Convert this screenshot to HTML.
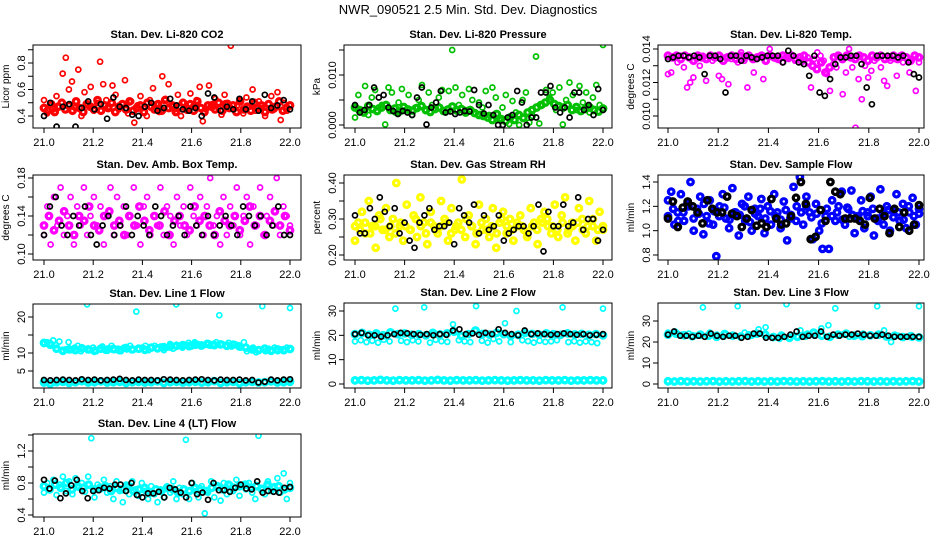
<!DOCTYPE html>
<html><head><meta charset="utf-8"><style>
html,body{margin:0;padding:0;background:#fff;}
svg{display:block;font-family:"Liberation Sans",sans-serif;}
</style></head><body>
<svg id="chart" width="936" height="540" viewBox="0 0 936 540" xmlns="http://www.w3.org/2000/svg">
<rect width="936" height="540" fill="#fff"/>
<text x="468" y="14" text-anchor="middle" font-size="13">NWR_090521  2.5 Min. Std. Dev. Diagnostics</text>
</svg>
<script>
// ---------- data (x evenly spaced 21.0 -> 22.0) ----------
const xTicks = [21.0,21.2,21.4,21.6,21.8,22.0];
const xTickLabels = ["21.0","21.2","21.4","21.6","21.8","22.0"];

const co2Red = [0.52,0.42,0.48,0.45,0.55,0.47,0.72,0.84,0.60,0.66,0.46,0.75,0.40,0.58,0.48,0.62,0.44,0.50,0.81,0.64,0.52,0.47,0.63,0.56,0.45,0.49,0.67,0.42,0.51,0.35,0.48,0.55,0.46,0.40,0.52,0.61,0.49,0.43,0.70,0.53,0.64,0.47,0.45,0.56,0.40,0.50,0.44,0.57,0.48,0.52,0.62,0.36,0.45,0.63,0.49,0.53,0.46,0.41,0.56,0.50,0.93,0.45,0.48,0.52,0.42,0.54,0.47,0.60,0.44,0.51,0.46,0.40,0.49,0.55,0.45,0.58,0.37,0.50,0.44,0.48];
const co2RedCore = [0.46,0.44,0.49,0.43,0.47,0.50,0.45,0.48,0.44,0.51,0.46,0.43,0.49,0.47,0.45,0.52,0.44,0.48,0.46,0.50,0.43,0.47,0.49,0.45,0.51,0.44,0.46,0.48,0.43,0.50,0.47,0.45,0.49,0.44,0.52,0.46,0.48,0.43,0.47,0.50,0.45,0.49,0.44,0.51,0.46,0.43,0.48,0.47,0.45,0.50,0.44,0.49,0.46,0.48,0.43,0.51,0.45,0.47,0.44,0.50,0.46,0.48,0.43,0.49,0.45,0.47,0.51,0.44,0.46,0.48];
const co2Black = [0.40,0.50,0.32,0.47,0.49,0.32,0.46,0.51,0.45,0.49,0.38,0.54,0.47,0.46,0.41,0.40,0.47,0.50,0.44,0.46,0.53,0.48,0.45,0.44,0.46,0.40,0.57,0.54,0.44,0.47,0.45,0.53,0.45,0.51,0.44,0.56,0.46,0.48,0.52,0.45];

const pressGreen = [0.0015,0.0060,0.0030,0.0078,0.0020,0.0055,0.0070,0.0035,0.0040,0.0001,0.0075,0.0065,0.0025,0.0045,0.0072,0.0030,0.0060,0.0020,0.0035,0.0050,0.0080,0.0028,0.0065,0.0040,0.0030,0.0055,0.0070,0.0025,0.0068,0.0150,0.0075,0.0040,0.0060,0.0030,0.0072,0.0050,0.0022,0.0045,0.0035,0.0068,0.0020,0.0075,0.0055,0.0010,0.0035,0.0060,0.0002,0.0048,0.0025,0.0000,0.0050,0.0065,0.0005,0.0018,0.0137,0.0003,0.0040,0.0070,0.0055,0.0065,0.0030,0.0075,0.0001,0.0050,0.0085,0.0060,0.0030,0.0078,0.0045,0.0065,0.0025,0.0055,0.0080,0.0040,0.0160];
const pressGreenCore = [0.0035,0.0030,0.0025,0.0038,0.0032,0.0028,0.0035,0.0040,0.0030,0.0033,0.0027,0.0036,0.0031,0.0029,0.0034,0.0038,0.0030,0.0026,0.0033,0.0035,0.0028,0.0031,0.0037,0.0029,0.0032,0.0025,0.0030,0.0024,0.0020,0.0018,0.0015,0.0010,0.0022,0.0012,0.0008,0.0015,0.0010,0.0020,0.0014,0.0025,0.0030,0.0035,0.0040,0.0045,0.0050,0.0042,0.0038,0.0035,0.0040,0.0030,0.0036,0.0028,0.0032,0.0035,0.0030,0.0027,0.0033];
const pressBlack = [0.0040,0.0025,0.0030,0.0040,0.0075,0.0055,0.0060,0.0035,0.0028,0.0022,0.0028,0.0025,0.0020,0.0055,0.0075,0.0001,0.0035,0.0045,0.0068,0.0025,0.0027,0.0022,0.0025,0.0028,0.0027,0.0070,0.0040,0.0023,0.0040,0.0020,0.0000,0.0000,0.0015,0.0020,0.0068,0.0045,0.0000,0.0015,0.0015,0.0065,0.0065,0.0078,0.0035,0.0025,0.0035,0.0015,0.0065,0.0065,0.0030,0.0040,0.0020,0.0072,0.0030];

const tempMag = [0.0125,0.0126,0.0135,0.0132,0.0136,0.0129,0.0117,0.0120,0.0123,0.0134,0.0130,0.0136,0.0121,0.0135,0.0133,0.0136,0.0124,0.0122,0.0135,0.0119,0.0134,0.0136,0.0132,0.0138,0.0133,0.0117,0.0135,0.0126,0.0134,0.0136,0.0122,0.0133,0.0140,0.0135,0.0134,0.0136,0.0132,0.0135,0.0134,0.0136,0.0133,0.0135,0.0132,0.0136,0.0135,0.0117,0.0134,0.0138,0.0136,0.0133,0.0125,0.0115,0.0131,0.0129,0.0135,0.0113,0.0126,0.0140,0.0129,0.0093,0.0122,0.0110,0.0130,0.0123,0.0127,0.0133,0.0135,0.0129,0.0121,0.0118,0.0133,0.0134,0.0124,0.0136,0.0132,0.0135,0.0126,0.0134,0.0115,0.0132];
const tempMagCore = [0.0136,0.0135,0.0136,0.0134,0.0136,0.0135,0.0133,0.0136,0.0135,0.0134,0.0136,0.0135,0.0136,0.0133,0.0135,0.0136,0.0134,0.0136,0.0135,0.0136,0.0134,0.0135,0.0136,0.0133,0.0136,0.0135,0.0134,0.0136,0.0135,0.0136,0.0134,0.0135,0.0136,0.0132,0.0130,0.0128,0.0132,0.0126,0.0129,0.0135,0.0136,0.0134,0.0136,0.0135,0.0134,0.0136,0.0135,0.0133,0.0136,0.0135,0.0136,0.0134,0.0135,0.0136,0.0134,0.0136,0.0135,0.0133,0.0136,0.0135];
const tempBlack = [0.0134,0.0135,0.0136,0.0136,0.0135,0.0136,0.0135,0.0125,0.0136,0.0136,0.0134,0.0114,0.0136,0.0136,0.0133,0.0136,0.0135,0.0134,0.0135,0.0136,0.0136,0.0136,0.0132,0.0139,0.0136,0.0132,0.0131,0.0124,0.0136,0.0114,0.0112,0.0122,0.0131,0.0135,0.0135,0.0136,0.0136,0.0131,0.0117,0.0107,0.0136,0.0136,0.0136,0.0136,0.0135,0.0136,0.0132,0.0125,0.0123];

const ambMag = [0.12,0.15,0.11,0.16,0.13,0.17,0.12,0.14,0.16,0.11,0.15,0.13,0.17,0.12,0.14,0.16,0.13,0.15,0.11,0.14,0.17,0.12,0.16,0.13,0.15,0.12,0.14,0.17,0.13,0.11,0.15,0.16,0.12,0.14,0.13,0.17,0.12,0.15,0.14,0.11,0.16,0.13,0.15,0.12,0.17,0.14,0.13,0.16,0.12,0.15,0.18,0.13,0.14,0.11,0.16,0.12,0.15,0.13,0.17,0.12,0.14,0.16,0.11,0.15,0.13,0.17,0.12,0.14,0.16,0.13,0.18,0.12,0.15,0.14,0.13];
const ambMagCore = [0.13,0.14,0.125,0.135,0.145,0.13,0.12,0.14,0.135,0.15,0.13,0.125,0.14,0.145,0.13,0.135,0.12,0.14,0.13,0.15,0.135,0.125,0.14,0.13,0.145,0.12,0.135,0.14,0.13,0.125,0.15,0.135,0.14,0.13,0.12,0.145,0.135,0.13,0.14,0.125,0.135,0.15,0.13,0.14,0.12,0.135,0.145,0.13,0.14,0.125];
const ambBlack = [0.12,0.15,0.16,0.13,0.12,0.14,0.13,0.15,0.12,0.11,0.13,0.14,0.12,0.13,0.15,0.12,0.14,0.13,0.12,0.15,0.14,0.12,0.13,0.14,0.12,0.15,0.13,0.12,0.14,0.12,0.13,0.14,0.13,0.12,0.15,0.14,0.13,0.14,0.12,0.13,0.15,0.12,0.12];

const rhYellow = [0.24,0.29,0.32,0.26,0.35,0.28,0.22,0.31,0.27,0.33,0.25,0.30,0.40,0.28,0.24,0.34,0.27,0.31,0.25,0.36,0.29,0.23,0.32,0.28,0.26,0.35,0.30,0.24,0.33,0.27,0.29,0.41,0.25,0.31,0.28,0.23,0.34,0.27,0.30,0.25,0.33,0.22,0.29,0.32,0.26,0.30,0.24,0.28,0.31,0.27,0.25,0.33,0.29,0.23,0.30,0.32,0.28,0.26,0.34,0.25,0.31,0.36,0.27,0.29,0.24,0.33,0.30,0.26,0.35,0.28,0.24,0.32,0.27];
const rhYellowCore = [0.28,0.27,0.29,0.26,0.28,0.30,0.27,0.28,0.26,0.29,0.28,0.27,0.30,0.28,0.26,0.29,0.27,0.28,0.29,0.26,0.28,0.27,0.30,0.28,0.26,0.29,0.27,0.28,0.26,0.30,0.28,0.27,0.29,0.28,0.26,0.28,0.27,0.29,0.30,0.28,0.27,0.29,0.26,0.28,0.29,0.27,0.28,0.30,0.27,0.28];
const rhBlack = [0.31,0.26,0.26,0.33,0.30,0.36,0.32,0.28,0.33,0.26,0.29,0.24,0.22,0.29,0.31,0.33,0.27,0.28,0.28,0.29,0.23,0.33,0.31,0.29,0.34,0.26,0.31,0.27,0.28,0.31,0.24,0.26,0.27,0.28,0.28,0.26,0.28,0.34,0.21,0.32,0.28,0.28,0.34,0.28,0.29,0.36,0.27,0.30,0.30,0.24,0.27];

const flowBlue = [1.25,1.32,1.05,1.15,1.30,1.08,1.22,1.40,1.00,1.18,1.28,0.97,1.12,1.25,1.05,0.79,1.20,1.30,1.10,1.02,1.35,1.15,0.96,1.22,1.08,1.28,1.00,1.18,1.12,1.26,0.98,1.20,1.05,1.30,1.15,1.02,1.24,0.92,1.10,1.36,1.20,1.44,1.05,1.28,1.15,0.93,1.22,1.00,0.85,1.12,0.85,1.25,1.08,1.20,1.32,1.05,1.18,1.33,0.98,1.12,1.25,1.02,1.15,1.28,0.96,1.10,1.34,1.05,1.20,1.00,1.16,1.30,1.08,1.22,1.02,1.15,1.27,1.05,1.18];
const flowBlueCore = [1.12,1.18,1.08,1.15,1.20,1.10,1.14,1.22,1.06,1.16,1.12,1.19,1.09,1.15,1.13,1.20,1.07,1.14,1.18,1.10,1.16,1.12,1.09,1.17,1.13,1.08,1.15,1.20,1.11,1.14,1.06,1.18,1.12,1.15,1.09,1.19,1.13,1.10,1.16,1.12,1.18,1.08,1.14,1.17,1.11,1.15,1.09,1.20,1.12,1.14];
const flowBlack = [1.10,1.24,1.03,1.19,1.24,1.20,1.15,1.06,1.25,1.18,1.15,1.15,1.28,1.14,1.12,1.03,1.10,1.17,1.04,1.06,1.03,1.26,1.10,1.05,1.06,1.12,1.27,1.40,1.22,0.93,0.95,1.17,1.08,1.40,1.32,1.30,1.10,1.10,1.10,1.08,1.05,1.27,1.10,1.18,1.12,0.98,1.18,1.03,1.15,1.00,1.05,1.21];

const line1Cyan = [12.5,13.0,12.8,13.5,12.2,13.2,10.5,11.0,13.0,10.8,11.5,12.0,10.5,11.2,23.5,10.8,11.5,10.5,11.0,11.8,10.6,11.3,12.0,10.8,11.2,10.5,11.5,11.0,12.0,10.8,21.5,11.0,11.5,12.0,10.8,11.5,12.0,11.2,11.8,10.8,11.5,12.5,11.2,23.5,12.0,11.5,12.2,12.8,11.8,13.0,12.5,11.8,12.2,12.8,12.0,12.5,13.0,20.5,12.5,12.0,12.8,11.8,12.5,12.2,11.5,13.0,10.5,11.0,11.5,10.2,11.0,23.0,10.5,11.2,10.8,11.5,10.5,11.0,10.8,11.5,22.5];
const line1CyanCore = [12.8,12.3,11.2,10.6,11.0,10.8,11.3,11.0,10.6,11.2,10.9,11.1,10.8,11.4,11.0,11.2,10.9,11.5,11.3,11.6,11.8,12.0,12.2,11.9,12.3,12.1,12.5,12.2,12.4,12.0,12.3,11.8,11.5,11.0,10.8,11.2,10.6,11.0,10.8,11.1];
const line1CyanLow = [1.8,1.5,1.9,2.0,1.7,1.9,2.2,1.8,1.9,2.1,1.8,1.9,2.0,1.7,1.9,2.0,1.8,1.9,2.1,1.7,1.9,2.0,1.8,1.9,2.0,1.8,1.9,2.2,1.7,1.9,2.0,1.6,1.9,2.0,1.8,1.9,2.1,1.8,1.9,2.0];
const line1Black = [2.5,2.4,2.5,2.6,2.5,2.4,2.7,2.5,2.6,2.4,2.5,2.6,2.8,2.5,2.4,2.6,2.5,2.5,2.4,2.7,2.6,2.5,2.4,2.5,2.6,2.7,2.5,2.4,2.6,2.5,2.5,2.6,2.4,2.5,1.8,2.0,2.6,2.4,2.6,2.7];

const line2Cyan = [17.5,18.0,17.2,17.8,17.0,18.2,17.5,31.0,17.8,17.2,18.0,17.5,31.5,17.0,18.2,17.6,17.3,24.5,18.0,17.5,17.2,32.0,17.8,17.0,18.5,17.5,25.0,17.2,30.0,18.0,17.6,17.0,17.8,17.3,17.5,18.0,31.5,17.2,17.6,17.0,17.5,17.2,16.8,31.0];
const line2CyanUpper = [20.5,21.0,20.2,20.8,20.0,21.2,20.5,20.8,20.2,20.5,20.0,21.0,20.4,20.8,21.5,19.8,20.5,22.0,20.6,20.3,21.0,20.5,19.8,20.2,21.0,20.6,20.3,20.8,20.5,20.2,20.8,20.4,20.6,20.2,20.5,20.0];
const line2CyanLow = [1.5,1.6,1.4,1.5,1.7,1.5,1.4,1.6,1.5,1.5,1.6,1.4,1.5,1.7,1.5,1.4,1.6,1.5,1.5,1.6,1.4,1.5,1.6,1.5,1.4,1.5,1.6,1.5,1.5,1.4,1.6,1.5,1.5,1.6,1.4,1.5,1.5,1.6,1.5,1.5];
const line2Black = [20.5,21.0,20.0,20.0,19.5,20.0,20.5,21.0,20.8,20.5,20.2,20.5,20.0,20.5,20.2,22.0,22.5,20.5,20.8,20.2,21.0,20.5,22.5,21.0,20.5,20.0,22.0,20.5,20.8,20.5,20.2,20.5,20.8,20.5,20.2,20.5,20.0,20.2,20.5];

const line3Cyan = [24.5,25.0,23.5,24.0,23.0,36.5,24.5,23.5,22.5,23.0,37.0,24.5,23.0,26.0,27.0,22.0,21.5,38.0,23.0,25.5,24.0,23.0,26.5,28.0,36.0,23.5,22.5,23.0,24.0,23.5,37.0,25.5,20.0,23.0,22.5,22.0,37.0];
const line3CyanCore = [23.5,24.0,23.2,22.8,23.5,23.0,22.5,23.8,23.0,22.6,23.2,24.0,23.5,22.4,23.0,22.0,22.5,23.0,24.5,23.0,22.5,23.5,24.0,23.0,22.8,23.2,23.5,22.6,23.0,22.4,22.8,22.2];
const line3CyanLow = [1.3,1.2,1.4,1.2,1.3,1.2,1.3,1.4,1.2,1.3,1.2,1.3,1.4,1.2,1.3,1.2,1.3,1.2,1.4,1.3,1.2,1.3,1.2,1.3,1.4,1.2,1.3,1.2,1.3,1.2,1.4,1.3,1.2,1.3,1.2,1.3,1.2,1.3,1.4,1.2];
const line3Black = [23.5,25.0,23.0,23.0,22.5,23.0,22.5,24.0,23.0,22.5,23.0,23.0,22.0,22.5,24.0,24.0,22.0,22.0,22.0,22.5,23.5,25.0,22.5,23.0,23.0,25.0,22.5,23.5,23.0,23.5,23.5,24.0,23.5,23.0,23.0,23.5,23.0,22.5,22.5,22.5,22.5,22.5];

const line4Cyan = [0.68,0.80,0.72,0.84,0.65,0.78,0.88,0.70,0.82,0.66,0.86,0.74,0.80,0.69,0.88,1.36,0.62,0.78,0.72,0.84,0.68,0.76,0.60,0.82,0.70,0.56,0.78,0.66,0.82,0.72,0.64,0.80,0.70,0.60,0.76,0.66,0.56,0.72,0.62,0.76,0.68,0.82,0.60,0.74,0.66,1.34,0.60,0.80,0.70,0.62,0.76,0.42,0.68,0.82,0.62,0.74,0.58,0.80,0.66,0.78,0.70,0.84,0.64,0.78,0.72,0.80,0.68,0.60,1.39,0.74,0.66,0.82,0.70,0.76,0.86,0.68,0.92,0.60,0.80];
const line4CyanCore = [0.76,0.72,0.78,0.74,0.80,0.72,0.76,0.74,0.78,0.72,0.74,0.76,0.70,0.74,0.72,0.76,0.70,0.72,0.74,0.68,0.72,0.70,0.74,0.72,0.68,0.72,0.70,0.74,0.72,0.70,0.74,0.76,0.72,0.78,0.74,0.76,0.78,0.74,0.76,0.72,0.78,0.74,0.76,0.72,0.74];
const line4Black = [0.84,0.73,0.83,0.61,0.67,0.77,0.84,0.70,0.61,0.70,0.71,0.74,0.73,0.78,0.78,0.70,0.80,0.65,0.62,0.67,0.67,0.69,0.62,0.74,0.72,0.68,0.62,0.80,0.66,0.68,0.59,0.80,0.71,0.71,0.69,0.74,0.78,0.73,0.72,0.82,0.68,0.70,0.69,0.68,0.74,0.75];

// ---------- rendering ----------
const NS = "http://www.w3.org/2000/svg";
const svg = document.getElementById("chart");
function mk(tag, attrs, parent){
  const e = document.createElementNS(NS, tag);
  for (const k in attrs) e.setAttribute(k, attrs[k]);
  (parent||svg).appendChild(e);
  return e;
}

function panel(c){
  const g = mk("g", {});
  
  
  const [l,t,r,b] = c.box;
  const xs = v => c.xr[0] + (v-21)/(22-21)*(c.xr[1]-c.xr[0]);
  const ys = v => c.yp[0] + (v-c.yv[0])/(c.yv[1]-c.yv[0])*(c.yp[1]-c.yp[0]);
  const clipId = "clip-"+c.name;
  const cp = mk("clipPath", {id: clipId}, g);
  mk("rect", {x:l, y:t, width:r-l, height:b-t}, cp);
  const pts = mk("g", {"clip-path":"url(#"+clipId+")"}, g);
  
  
  c.series.forEach(s=>{
    const n = s.vals.length;
    const core = /core|low|upper/.test(s.name);
    s.vals.forEach((v,i)=>{
      const x = xs(21 + i/(n-1));
      const cc = mk("circle", {cx:x.toFixed(1), cy:ys(v).toFixed(1), r: core?2.8:2.5, fill:"none", stroke:s.color, "stroke-width": core?3.2:1.7}, pts);
      
      
    });
  });
  const box = mk("rect", {x:l, y:t, width:r-l, height:b-t, fill:"none", stroke:"#000", "stroke-width":1}, g);
  
  
  const xa = mk("g", {}, g);
  
  
  mk("line", {x1:xs(xTicks[0]), x2:xs(xTicks[xTicks.length-1]), y1:b, y2:b, stroke:"#000"}, xa);
  xTicks.forEach((v,i)=>{
    mk("line", {x1:xs(v), x2:xs(v), y1:b, y2:b+5, stroke:"#000"}, xa);
    const tx = mk("text", {x:xs(v), y:b+18, "text-anchor":"middle", "font-size":11}, xa);
    
    
    tx.textContent = xTickLabels[i];
  });
  const ya = mk("g", {}, g);
  
  
  mk("line", {x1:l, x2:l, y1:ys(c.ticks[0]), y2:ys(c.ticks[c.ticks.length-1]), stroke:"#000"}, ya);
  c.ticks.forEach((v,i)=>{
    mk("line", {x1:l-5, x2:l, y1:ys(v), y2:ys(v), stroke:"#000"}, ya);
    if (c.labels[i]) {
      const y = ys(v);
      const tx = mk("text", {x:l-8, y:y, "text-anchor":"middle", "font-size":11, transform:"rotate(-90 "+(l-8)+" "+y+")"}, ya);
      
      
      tx.textContent = c.labels[i];
    }
  });
  const my = (t+b)/2, mx = l-24;
  const yt = mk("text", {x:mx, y:my, "text-anchor":"middle", "font-size":10, transform:"rotate(-90 "+mx+" "+my+")"}, g);
  
  
  yt.textContent = c.ylab;
  const tt = mk("text", {x:(l+r)/2, y:t-7, "text-anchor":"middle", "font-size":11, "font-weight":"bold"}, g);
  
  
  tt.textContent = c.title;
}

const C1 = {box:[33,0,301,0], xr:[44,290]};
const C2 = {box:[344,0,612,0], xr:[355,603]};
const C3 = {box:[658,0,924,0], xr:[668,919]};
function B(col, t, b){ return [col.box[0], t, col.box[2], b]; }

panel({name:"co2-panel", box:B(C1,45,128), xr:C1.xr, yv:[0.4,0.8], yp:[116,63],
  ticks:[0.4,0.5,0.6,0.7,0.8,0.9], labels:["0.4","","0.6","","0.8",""],
  title:"Stan. Dev. Li-820 CO2", ylab:"Licor ppm",
  series:[{name:"co2-red",vals:co2Red,color:"#ff0000"},{name:"co2-red-core",vals:co2RedCore,color:"#ff0000"},{name:"co2-black",vals:co2Black,color:"#000"}]});
panel({name:"pressure-panel", box:B(C2,45,128), xr:C2.xr, yv:[0,0.01], yp:[125,75],
  ticks:[0,0.005,0.01,0.015], labels:["0.000","","0.010",""],
  title:"Stan. Dev. Li-820 Pressure", ylab:"kPa",
  series:[{name:"pressure-green",vals:pressGreen,color:"#00c000"},{name:"pressure-green-core",vals:pressGreenCore,color:"#00c000"},{name:"pressure-black",vals:pressBlack,color:"#000"}]});
panel({name:"temp-panel", box:B(C3,45,128), xr:C3.xr, yv:[0.010,0.014], yp:[116,49],
  ticks:[0.010,0.011,0.012,0.013,0.014], labels:["0.010","","0.012","","0.014"],
  title:"Stan. Dev. Li-820 Temp.", ylab:"degrees C",
  series:[{name:"temp-magenta",vals:tempMag,color:"#ff00ff"},{name:"temp-magenta-core",vals:tempMagCore,color:"#ff00ff"},{name:"temp-black",vals:tempBlack,color:"#000"}]});

panel({name:"ambbox-panel", box:B(C1,175,260), xr:C1.xr, yv:[0.10,0.18], yp:[254,178],
  ticks:[0.10,0.12,0.14,0.16,0.18], labels:["0.10","","0.14","","0.18"],
  title:"Stan. Dev. Amb. Box Temp.", ylab:"degrees C",
  series:[{name:"amb-magenta",vals:ambMag,color:"#ff00ff"},{name:"amb-magenta-core",vals:ambMagCore,color:"#ff00ff"},{name:"amb-black",vals:ambBlack,color:"#000"}]});
panel({name:"rh-panel", box:B(C2,175,260), xr:C2.xr, yv:[0.20,0.40], yp:[255,183],
  ticks:[0.20,0.25,0.30,0.35,0.40], labels:["0.20","","0.30","","0.40"],
  title:"Stan. Dev. Gas Stream RH", ylab:"percent",
  series:[{name:"rh-yellow",vals:rhYellow,color:"#ffff00"},{name:"rh-yellow-core",vals:rhYellowCore,color:"#ffff00"},{name:"rh-black",vals:rhBlack,color:"#000"}]});
panel({name:"sampleflow-panel", box:B(C3,175,260), xr:C3.xr, yv:[0.8,1.4], yp:[255,182],
  ticks:[0.8,1.0,1.2,1.4], labels:["0.8","1.0","1.2","1.4"],
  title:"Stan. Dev. Sample Flow", ylab:"ml/min",
  series:[{name:"flow-blue",vals:flowBlue,color:"#0000ff"},{name:"flow-blue-core",vals:flowBlueCore,color:"#0000ff"},{name:"flow-black",vals:flowBlack,color:"#000"}]});

panel({name:"line1-panel", box:B(C1,304,388), xr:C1.xr, yv:[10,20], yp:[353,317],
  ticks:[5,10,15,20], labels:["5","10","","20"],
  title:"Stan. Dev. Line 1 Flow", ylab:"ml/min",
  series:[{name:"line1-cyan",vals:line1Cyan,color:"#00ffff"},{name:"line1-cyan-core",vals:line1CyanCore,color:"#00ffff"},{name:"line1-cyan-low",vals:line1CyanLow,color:"#00ffff"},{name:"line1-black",vals:line1Black,color:"#000"}]});
panel({name:"line2-panel", box:B(C2,303,388), xr:C2.xr, yv:[0,30], yp:[384,311],
  ticks:[0,10,20,30], labels:["0","10","20","30"],
  title:"Stan. Dev. Line 2 Flow", ylab:"ml/min",
  series:[{name:"line2-cyan",vals:line2Cyan,color:"#00ffff"},{name:"line2-cyan-upper",vals:line2CyanUpper,color:"#00ffff"},{name:"line2-cyan-low",vals:line2CyanLow,color:"#00ffff"},{name:"line2-black",vals:line2Black,color:"#000"}]});
panel({name:"line3-panel", box:B(C3,303,388), xr:C3.xr, yv:[0,30], yp:[384,321],
  ticks:[0,10,20,30], labels:["0","10","20","30"],
  title:"Stan. Dev. Line 3 Flow", ylab:"ml/min",
  series:[{name:"line3-cyan",vals:line3Cyan,color:"#00ffff"},{name:"line3-cyan-core",vals:line3CyanCore,color:"#00ffff"},{name:"line3-cyan-low",vals:line3CyanLow,color:"#00ffff"},{name:"line3-black",vals:line3Black,color:"#000"}]});

panel({name:"line4-panel", box:B(C1,434,517), xr:C1.xr, yv:[0.4,1.2], yp:[515,451],
  ticks:[0.4,0.6,0.8,1.0,1.2,1.4], labels:["0.4","","0.8","","1.2",""],
  title:"Stan. Dev. Line 4 (LT) Flow", ylab:"ml/min",
  series:[{name:"line4-cyan",vals:line4Cyan,color:"#00ffff"},{name:"line4-cyan-core",vals:line4CyanCore,color:"#00ffff"},{name:"line4-black",vals:line4Black,color:"#000"}]});
</script>
</body></html>
